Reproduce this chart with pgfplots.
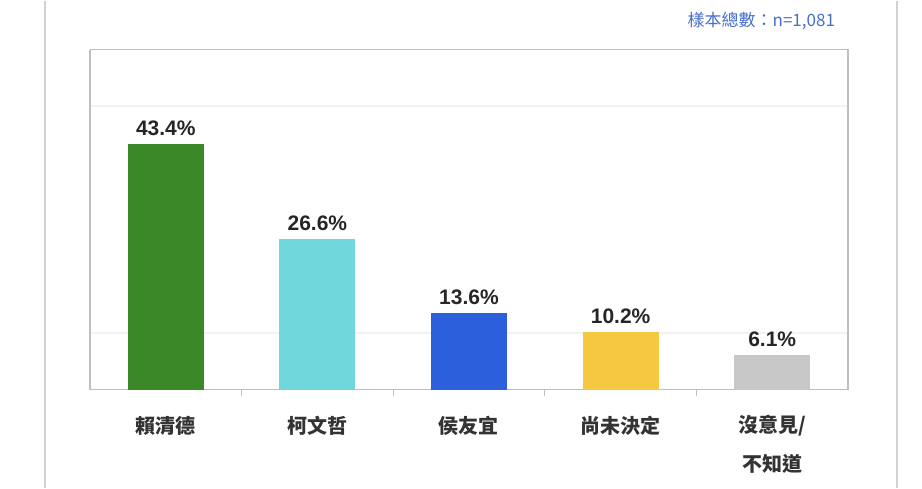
\documentclass[border=0pt]{standalone}
\usepackage{pgfplots}
\pgfplotsset{compat=1.18}
\usepackage{fontspec}
\setmainfont{Liberation Sans}
\newfontfamily\cjk{Noto Sans CJK TC}
\definecolor{cgreen}{RGB}{58,136,40}
\definecolor{ccyan}{RGB}{112,216,220}
\definecolor{cblue}{RGB}{43,95,219}
\definecolor{cyellow}{RGB}{246,200,66}
\definecolor{cgray}{RGB}{200,200,200}
\definecolor{cframe}{RGB}{190,190,190}
\definecolor{ctitle}{RGB}{70,110,205}
\tikzset{catlab/.style={font=\cjk\bfseries\fontsize{10}{12}\selectfont, text=black!80, anchor=center}}
\begin{document}
\begin{tikzpicture}
\begin{axis}[
  at={(0,0)}, anchor=south west,
  scale only axis,
  width=379pt, height=170pt,
  xmin=-0.5, xmax=4.5, ymin=0, ymax=60,
  /pgf/number format/assume math mode=true,
  axis line style={cframe, line width=0.8pt},
  xtick={0.5,1.5,2.5,3.5}, xticklabels={},
  major tick length=3pt,
  xtick style={cframe, line width=0.6pt},
  tick align=outside,
  ytick={10,50}, yticklabels={},
  ytick style={draw=none},
  ymajorgrids, grid style={gray!10, line width=0.8pt},
  axis x line*=bottom,
  axis y line*=left,
  clip=false,
  ybar, bar width=38pt, bar shift=0pt,
  nodes near coords={\pgfmathprintnumber[fixed,precision=1,fixed zerofill,assume math mode=true]{\pgfplotspointmeta}\%},
  every node near coord/.append style={font=\bfseries\fontsize{10.5}{12}\selectfont, text=black!85, yshift=0.5pt},
]
\addplot[fill=cgreen, draw=none] coordinates {(0,43.4)};
\addplot[fill=ccyan, draw=none] coordinates {(1,26.6)};
\addplot[fill=cblue, draw=none] coordinates {(2,13.6)};
\addplot[fill=cyellow, draw=none] coordinates {(3,10.2)};
\addplot[fill=cgray, draw=none] coordinates {(4,6.1)};
\draw[cframe, line width=0.8pt] (rel axis cs:0,1) -- (rel axis cs:1,1) -- (rel axis cs:1,0);
\node[catlab] at (axis cs:0,0) [yshift=-18pt] {賴清德};
\node[catlab] at (axis cs:1,0) [yshift=-18pt] {柯文哲};
\node[catlab] at (axis cs:2,0) [yshift=-18pt] {侯友宜};
\node[catlab] at (axis cs:3,0) [yshift=-18pt] {尚未決定};
\node[catlab] at (axis cs:4,0) [yshift=-18pt] {沒意見/};
\node[catlab] at (axis cs:4,0) [yshift=-37pt] {不知道};
\end{axis}
\draw[cframe!70, line width=0.6pt] (-22.5pt,-49pt) -- (-22.5pt,194.5pt);
\draw[cframe!70, line width=0.6pt] (403.5pt,-49pt) -- (403.5pt,194.5pt);
\node[anchor=east, font=\cjk\fontsize{8.5}{10}\selectfont, text=ctitle] at (376pt,184.5pt) {樣本總數：n=1,081};
\path[use as bounding box] (-45pt,-49pt) rectangle (416pt,194.5pt);
\end{tikzpicture}
\end{document}
